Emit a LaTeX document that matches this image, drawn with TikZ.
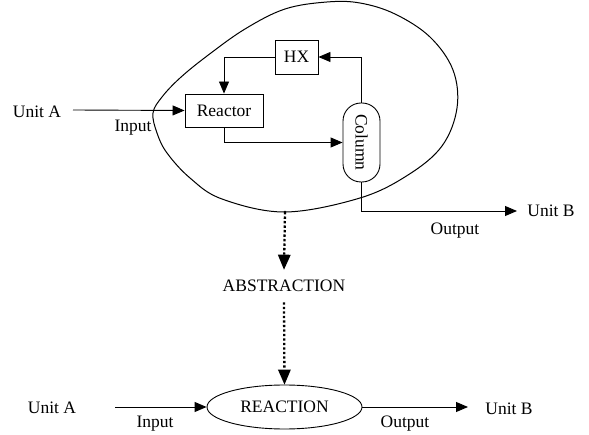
\documentclass[tikz,border=0pt]{standalone}
\usepackage{fontspec}
\setmainfont{Liberation Serif}
\usetikzlibrary{arrows.meta,shapes.geometric}
\begin{document}
\begin{tikzpicture}[x=1pt,y=-1pt,
  font=\fontsize{17.5}{20}\selectfont,
  line width=0.9pt,
  arr/.style={-{Triangle[length=12pt,width=10pt]}},
  dotarr/.style={line width=2.3pt,dash pattern=on 2.3pt off 2.2pt,
     -{Triangle[length=15pt,width=13pt,line width=0pt]}},
  unitbox/.style={draw,inner sep=0pt},
  lbl/.style={inner sep=1pt}]
\useasboundingbox (0,0) rectangle (589,435);
% blob
\draw[line width=1pt] plot[smooth cycle,tension=0.6] coordinates{
 (327,2) (360,3) (395,14) (430,37) (453,70) (457,108) (442,146) (408,175)
 (360,198) (285,212) (222,199) (190,178) (167,153)
 (157,133) (153,113) (162,97) (180,78) (207,56) (245,29) (285,9)};
% top nodes
\node[unitbox,minimum width=43pt,minimum height=34pt] (hx) at (296.5,57) {HX};
\node[unitbox,minimum width=78pt,minimum height=33pt] (reactor) at (224,110.5) {Reactor};
\node[draw,rotate=-90,minimum width=79pt,minimum height=37pt,inner sep=0pt,
      rounded corners=18pt] (column) at (361.5,142.5) {Column};
\node[lbl] (unitA1) at (37,112) {Unit A};
\node[lbl] (input1) at (133,128) {Input};
\node[lbl] (unitB1) at (551,211) {Unit B};
\node[lbl] (output1) at (455,231) {Output};
\coordinate (a1) at (73,110);
\coordinate (b1) at (517,211);
% top connectors
\draw[arr] (a1) -- (reactor.west);
\draw[arr] (column.west) |- (hx.east);
\draw[arr] (hx.west) -| (reactor.north);
\draw[arr] (reactor.south) |- (column.south);
\draw[arr] (column.east) |- (b1);
% abstraction
\coordinate (blobbot) at (285,212);
\fill (blobbot) circle (1.3pt);
\node[inner xsep=2pt,inner ysep=10pt] (abs) at (284,286) {ABSTRACTION};
\draw[dotarr] (blobbot) -- (abs.north);
% bottom
\node[draw,ellipse,minimum width=155pt,minimum height=44pt,inner sep=0pt]
   (reaction) at (284.5,407) {REACTION};
\draw[dotarr] (abs.south) -- (reaction.north);
\node[lbl] (unitA2) at (52,408) {Unit A};
\node[lbl] (input2) at (155,424) {Input};
\node[lbl] (output2) at (405,424) {Output};
\node[lbl] (unitB2) at (509,409) {Unit B};
\coordinate (a2) at (115,407);
\coordinate (b2) at (468,407);
\draw[arr] (a2) -- (reaction.west);
\draw[arr] (reaction.east) -- (b2);
\end{tikzpicture}
\end{document}
